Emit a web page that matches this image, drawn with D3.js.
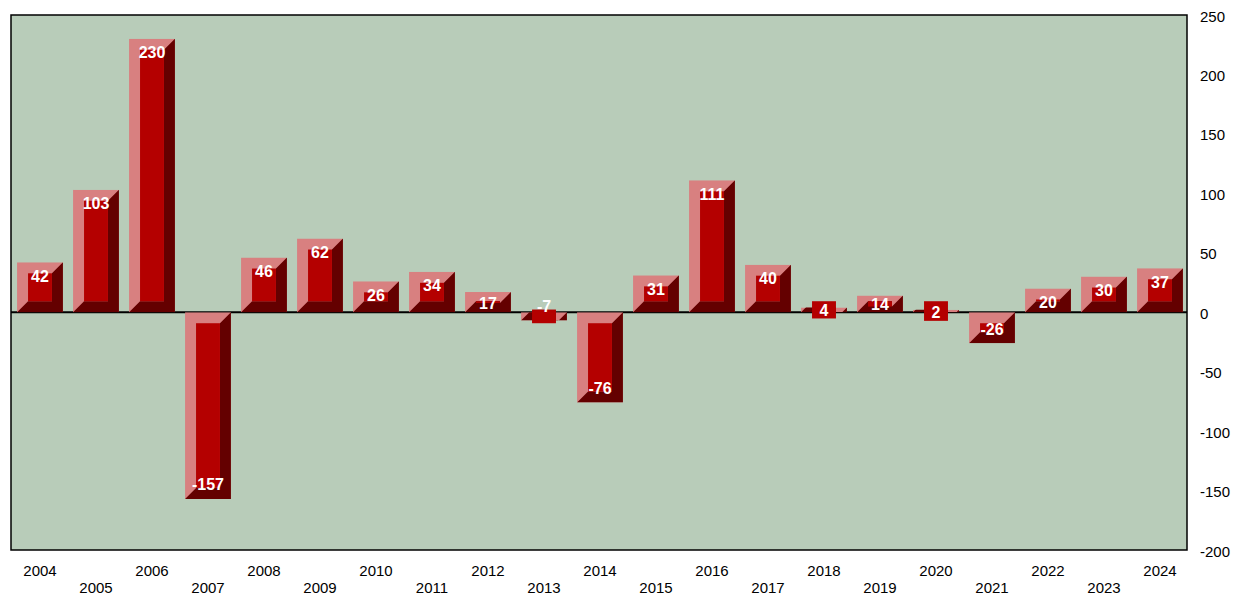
<!DOCTYPE html>
<html>
<head>
<meta charset="utf-8">
<script src="https://cdn.jsdelivr.net/npm/d3@7"></script>
<style>
  html, body { margin: 0; padding: 0; background: #ffffff; }
  svg { display: block; font-family: Arial, "Liberation Sans", sans-serif; }
</style>
</head>
<body>
<svg id="chart" width="1233" height="595"></svg>
<script>
// Yearly values
const years = ["2004","2005","2006","2007","2008","2009","2010","2011","2012","2013","2014",
               "2015","2016","2017","2018","2019","2020","2021","2022","2023","2024"];
const values = [42, 103, 230, -157, 46, 62, 26, 34, 17, -7, -76, 31, 111, 40, 4, 14, 2, -26, 20, 30, 37];
const yTicks = [250, 200, 150, 100, 50, 0, -50, -100, -150, -200];

const plot = { left: 11, right: 1187, top: 15, bottom: 550 };
const bevel = 11;
const colLight = "#d88080", colMid = "#b40000", colDark = "#640000";

const svg = d3.select("#chart");

const x = d3.scaleBand().domain(years).range([plot.left + 1, plot.right + 1])
  .paddingInner(0.18).paddingOuter(0.09);
const y = d3.scaleLinear().domain([-200, 250]).range([plot.bottom, plot.top]);

// Plot background
svg.append("rect")
  .attr("x", plot.left).attr("y", plot.top)
  .attr("width", plot.right - plot.left).attr("height", plot.bottom - plot.top)
  .attr("fill", "#b8ccb9");

// Zero line
svg.append("line")
  .attr("x1", plot.left).attr("x2", plot.right)
  .attr("y1", y(0)).attr("y2", y(0))
  .attr("stroke", "#000").attr("stroke-width", 2);

const defs = svg.append("defs");
const bars = svg.append("g");

values.forEach((v, i) => {
  const x0 = x(years[i]), x1 = x0 + x.bandwidth();
  const y0 = Math.min(y(v), y(0)), y1 = Math.max(y(v), y(0));
  const g = bars.append("g");
  const cid = "clip" + i;
  defs.append("clipPath").attr("id", cid)
    .append("rect").attr("x", x0).attr("y", y0).attr("width", x1 - x0).attr("height", y1 - y0);

  const bev = g.append("g").attr("clip-path", `url(#${cid})`);
  // light top/left faces
  bev.append("rect").attr("x", x0).attr("y", y0).attr("width", x1 - x0).attr("height", y1 - y0)
    .attr("fill", colLight);
  // dark bottom/right faces
  bev.append("polygon")
    .attr("points", [
      [x0, y1], [x0 + bevel, y1 - bevel], [x1 - bevel, y1 - bevel],
      [x1 - bevel, y0 + bevel], [x1, y0], [x1, y1]
    ].map(p => p.join(",")).join(" "))
    .attr("fill", colDark);
  // face
  const iy0 = Math.min(y0 + bevel, y1 - bevel), iy1 = Math.max(y0 + bevel, y1 - bevel);
  g.append("rect").attr("x", x0 + bevel).attr("y", iy0)
    .attr("width", x1 - x0 - 2 * bevel).attr("height", iy1 - iy0)
    .attr("fill", colMid);

  // value label
  const h = y1 - y0;
  let ly;
  if (v < 0) ly = y1 - 14;
  else ly = h < 22 ? (y0 + y1) / 2 + 1 : y0 + 14;
  g.append("text")
    .attr("x", (x0 + x1) / 2).attr("y", ly)
    .attr("text-anchor", "middle").attr("dominant-baseline", "central")
    .attr("fill", "#fff").attr("font-weight", "bold").attr("font-size", 16)
    .text(v);
});

// Plot border
svg.append("rect")
  .attr("x", plot.left).attr("y", plot.top)
  .attr("width", plot.right - plot.left).attr("height", plot.bottom - plot.top)
  .attr("fill", "none").attr("stroke", "#000").attr("stroke-width", 1.5);

// Right value axis labels
svg.append("g").selectAll("text").data(yTicks).join("text")
  .attr("x", plot.right + 13).attr("y", d => y(d) + 1)
  .attr("dominant-baseline", "central")
  .attr("font-size", 15).attr("fill", "#000")
  .text(d => d);

// Category labels, staggered on two rows
svg.append("g").selectAll("text").data(years).join("text")
  .attr("x", d => x(d) + x.bandwidth() / 2)
  .attr("y", (d, i) => i % 2 === 0 ? 576 : 593)
  .attr("text-anchor", "middle")
  .attr("font-size", 15).attr("fill", "#000")
  .text(d => d);
</script>
</body>
</html>
